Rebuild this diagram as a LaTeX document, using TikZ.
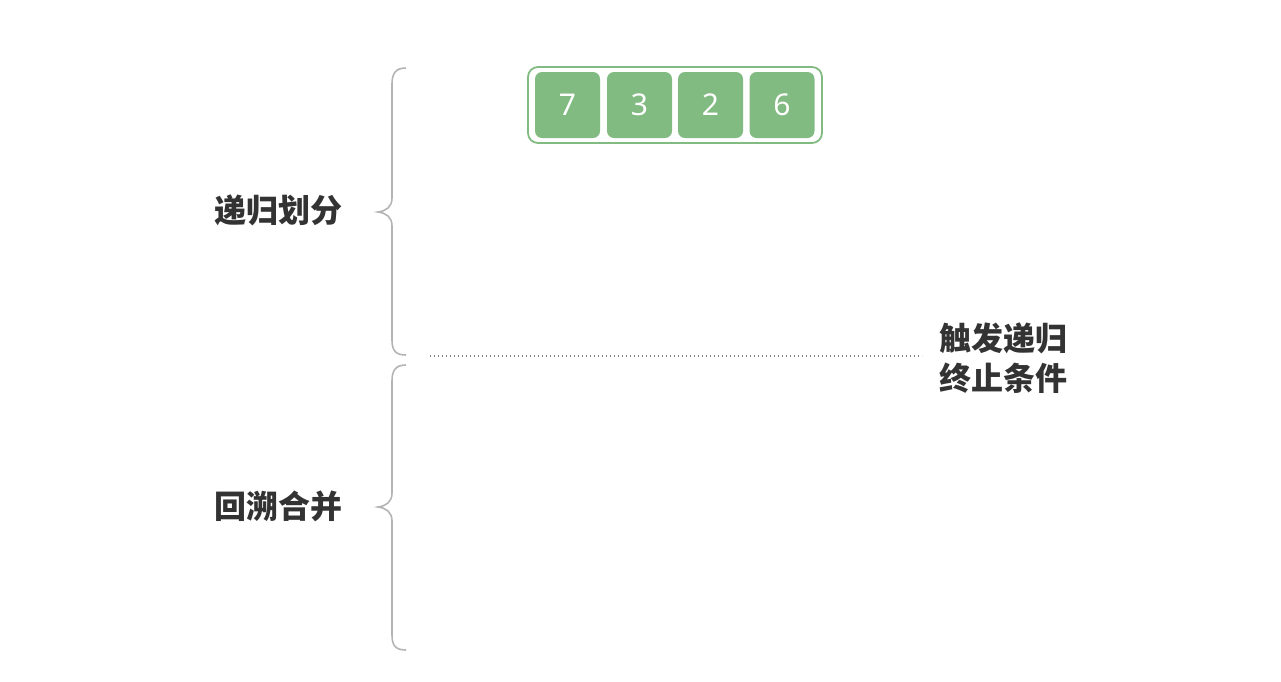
\documentclass[tikz,border=0pt]{standalone}
\usepackage{fontspec}
\setmainfont{Noto Sans}
\newfontfamily\cjk{Noto Sans CJK SC}
\begin{document}
\begin{tikzpicture}[x=1pt,y=-1pt]
\definecolor{cellgreen}{HTML}{82BB82}
\definecolor{bracegray}{HTML}{B4B4B4}
\definecolor{txt}{HTML}{333333}
\tikzset{
  cell/.style={fill=cellgreen, rounded corners=7pt, minimum width=65pt, minimum height=66pt, inner sep=0pt, text=white, font=\fontsize{30}{32}\selectfont},
  outerbox/.style={draw=cellgreen, line width=1.8pt, rounded corners=10pt},
  bracepath/.style={draw=bracegray, line width=1.6pt},
  label/.style={text=txt, font=\cjk\bfseries\fontsize{32}{40}\selectfont, align=left, inner sep=0pt},
  dotline/.style={draw=gray, line width=1.3pt, dash pattern=on 1.3pt off 2.7pt}
}
\useasboundingbox (0,0) rectangle (1281,681);
\draw[outerbox] (528,67) rectangle (822,143);
\node[cell] (c1) at (567.5,105) {7};
\node[cell] (c2) at (639.5,105) {3};
\node[cell] (c3) at (710.5,105) {2};
\node[cell] (c4) at (782,105) {6};
% braces
\draw[bracepath] (406,68) .. controls (396,68) and (392,73) .. (392,84) -- (392,198) .. controls (392,207) and (386,211) .. (378,212) .. controls (386,213) and (392,217) .. (392,226) -- (392,340) .. controls (392,351) and (396,355) .. (406,355);
\draw[bracepath] (406,365) .. controls (396,365) and (392,370) .. (392,381) -- (392,493) .. controls (392,502) and (386,506) .. (378,507) .. controls (386,508) and (392,512) .. (392,521) -- (392,635) .. controls (392,646) and (396,650) .. (406,650);
\node[label] (l1) at (278,210) {递归划分};
\node[label] (l2) at (278,506) {回溯合并};
\node[label, anchor=west] (l3) at (939,358) {触发递归\\终止条件};
\coordinate (d1) at (430,356);
\coordinate (d2) at (922,356);
\draw[dotline] (d1) -- (d2);
\end{tikzpicture}
\end{document}
